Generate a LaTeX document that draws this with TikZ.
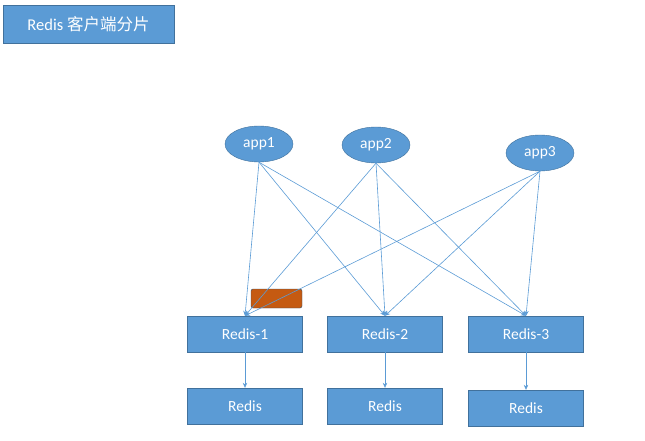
\documentclass[tikz,border=0pt]{standalone}
\usepackage{fontspec}
\setmainfont{Carlito}
\newfontfamily\cjk{Noto Sans CJK SC}
\usetikzlibrary{arrows.meta,positioning,shapes.geometric}
\definecolor{boxblue}{HTML}{5B9BD5}
\definecolor{edgeblue}{HTML}{41719C}
\definecolor{lockorange}{HTML}{C55A11}

\begin{document}
\begin{tikzpicture}[x=1pt,y=-1pt, every node/.style={font=\fontsize{15.5}{17}\selectfont, text=white},
  rbox/.style={draw=edgeblue, fill=boxblue, minimum width=115pt, minimum height=36pt, inner sep=0pt},
  app/.style={ellipse, draw=edgeblue, fill=boxblue, minimum width=68pt, minimum height=36pt, inner sep=0pt},
  link/.style={boxblue, line width=0.6pt, -{Stealth[length=5pt,width=4.5pt]}}]
  \useasboundingbox (0,0) rectangle (645,441);
  % title
  \node[rbox, minimum width=171pt, minimum height=38pt, font=\fontsize{16.5}{18}\selectfont] (title) at (88.5,24) {Redis {\cjk 客户端分片}};
  % clients
  \node[app] (app1) at (259,144) {app1};
  \node[app] (app2) at (376,145) {app2};
  \node[app] (app3) at (540,153) {app3};
  % shards and their slaves
  \foreach \n/\x in {1/245,2/385,3/526}{
    \node[rbox] (redis\n) at (\x,334) {Redis-\n};
  }
  \node[rbox] (slave1) at (245,406) {Redis};
  \node[rbox] (slave2) at (385,406) {Redis};
  \node[rbox] (slave3) at (526,408) {Redis};
  \node[draw=edgeblue!70!black, fill=lockorange, rounded corners=2pt, minimum width=51pt, minimum height=19pt, inner sep=0pt] (lock) at (276.5,298.5) {};
  % connections
  \foreach \a in {1,2,3}{
    \foreach \r in {1,2,3}{
      \draw[link] (app\a.south) -- (redis\r.north);
    }
  }
  \foreach \r in {1,2,3}{
    \draw[link] (redis\r) -- (slave\r);
  }
\end{tikzpicture}
\end{document}
